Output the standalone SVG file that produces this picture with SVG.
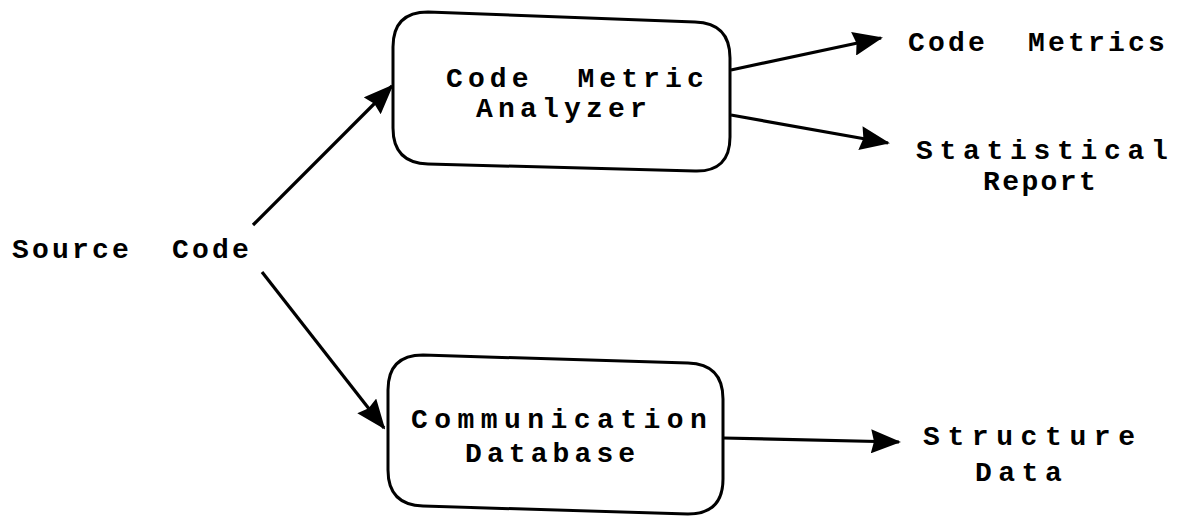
<svg xmlns="http://www.w3.org/2000/svg" width="1178" height="528" viewBox="0 0 1178 528">
  <style>
    .box { fill: none; stroke: #000; stroke-width: 3; stroke-linejoin: round; }
    .edge { fill: none; stroke: #000; stroke-width: 3.2; }
    .lbl { font-family: "Liberation Mono", "DejaVu Sans Mono", monospace; font-weight: bold; font-size: 28px; fill: #000; }
  </style>
  <defs>
    <marker id="head" viewBox="0 0 30 24" refX="28" refY="12" markerWidth="30" markerHeight="24" markerUnits="userSpaceOnUse" orient="auto">
      <path d="M0,0 L30,12 L0,24 L3,12 Z" fill="#000"/>
    </marker>
  </defs>
  <rect width="1178" height="528" fill="#fff"/>

  <g id="connectors">
    <line class="edge" x1="253" y1="225" x2="392" y2="86" marker-end="url(#head)"/>
    <line class="edge" x1="262" y1="272" x2="384" y2="428" marker-end="url(#head)"/>
    <line class="edge" x1="731" y1="70" x2="881" y2="38" marker-end="url(#head)"/>
    <line class="edge" x1="731" y1="115" x2="888" y2="143" marker-end="url(#head)"/>
    <line class="edge" x1="723" y1="438" x2="899" y2="442" marker-end="url(#head)"/>
  </g>

  <g id="source-code">
    <text class="lbl" x="12" y="258" letter-spacing="3.2" xml:space="preserve">Source  Code</text>
  </g>

  <g id="code-metric-analyzer">
    <path class="box" d="M428,12 L695,22 Q730,23 730,58 L730,137 Q730,172 695,171 L428,164 Q393,163 393,128 L393,47 Q393,12 428,12 Z"/>
    <text class="lbl" x="446" y="87" letter-spacing="5.1" xml:space="preserve">Code  Metric</text>
    <text class="lbl" x="476" y="117" letter-spacing="5.2">Analyzer</text>
  </g>

  <g id="communication-database">
    <path class="box" d="M423,355 L688,363 Q723,364 723,399 L723,479 Q723,514 688,514 L423,506 Q388,505 388,470 L388,390 Q388,355 423,355 Z"/>
    <text class="lbl" x="411" y="428" letter-spacing="6.45">Communication</text>
    <text class="lbl" x="465" y="462" letter-spacing="5.1">Database</text>
  </g>

  <g id="code-metrics">
    <text class="lbl" x="908" y="51" letter-spacing="3.2" xml:space="preserve">Code  Metrics</text>
  </g>

  <g id="statistical-report">
    <text class="lbl" x="916" y="159" letter-spacing="6.7">Statistical</text>
    <text class="lbl" x="983" y="190" letter-spacing="2.4">Report</text>
  </g>

  <g id="structure-data">
    <text class="lbl" x="923" y="445" letter-spacing="7.6">Structure</text>
    <text class="lbl" x="975" y="481" letter-spacing="6.5">Data</text>
  </g>
</svg>
